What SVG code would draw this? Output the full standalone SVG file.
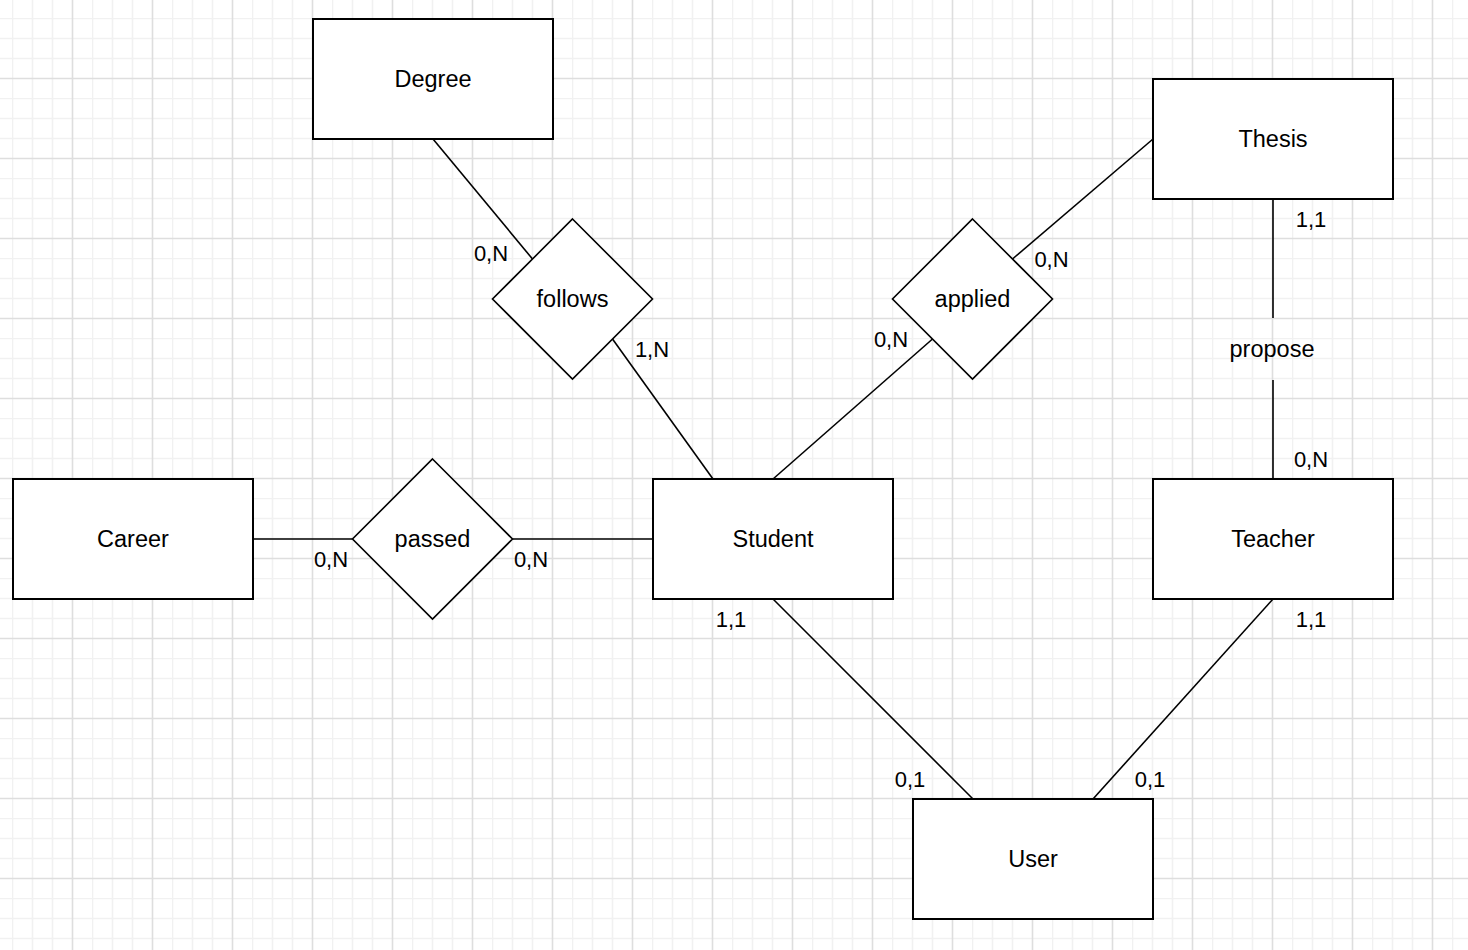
<svg xmlns="http://www.w3.org/2000/svg" width="1468" height="950" viewBox="0 0 1468 950">
<defs>
<pattern id="grid" patternUnits="userSpaceOnUse" x="12" y="18" width="80" height="80">
<path d="M0.5 0V80M20.5 0V80M40.5 0V80M0 0.5H80M0 20.5H80M0 40.5H80" stroke="#f1f1f1" stroke-width="1.6" fill="none"/>
<path d="M60.5 0V80M0 60.5H80" stroke="#dedede" stroke-width="1.6" fill="none"/>
</pattern>
<style>
.ent{fill:#ffffff;stroke:#000000;stroke-width:2}
.rel{fill:#ffffff;stroke:#000000;stroke-width:1.6}
.edge{stroke:#000000;stroke-width:1.6;fill:none}
.t{font-family:"Liberation Sans",Arial,Helvetica,sans-serif;font-size:23.5px;fill:#000000;text-anchor:middle}
.c{font-family:"Liberation Sans",Arial,Helvetica,sans-serif;font-size:22px;fill:#000000;text-anchor:middle}
</style>
</defs>
<rect x="0" y="0" width="1468" height="950" fill="#ffffff"/>
<rect x="0" y="0" width="1468" height="950" fill="url(#grid)"/>

<g id="connectors">
<line class="edge" x1="433" y1="139" x2="532.5" y2="259"/>
<line class="edge" x1="612.5" y1="339" x2="713" y2="479"/>
<line class="edge" x1="1012.5" y1="259" x2="1153" y2="139"/>
<line class="edge" x1="932.5" y1="339" x2="773" y2="479"/>
<line class="edge" x1="253" y1="539" x2="352.5" y2="539"/>
<line class="edge" x1="512.5" y1="539" x2="653" y2="539"/>
<line class="edge" x1="1273" y1="199" x2="1273" y2="318"/>
<line class="edge" x1="1273" y1="380" x2="1273" y2="479"/>
<line class="edge" x1="773" y1="599" x2="973" y2="799"/>
<line class="edge" x1="1273" y1="599" x2="1093" y2="799"/>
<text class="t" x="1272" y="357">propose</text>
<text class="c" x="491" y="261">0,N</text>
<text class="c" x="652" y="357">1,N</text>
<text class="c" x="1051.5" y="267">0,N</text>
<text class="c" x="891" y="347">0,N</text>
<text class="c" x="331" y="567">0,N</text>
<text class="c" x="531" y="567">0,N</text>
<text class="c" x="731" y="627">1,1</text>
<text class="c" x="1311" y="227">1,1</text>
<text class="c" x="1311" y="467">0,N</text>
<text class="c" x="1311" y="627">1,1</text>
<text class="c" x="910" y="787">0,1</text>
<text class="c" x="1150" y="787">0,1</text>
</g>

<g id="degree"><rect class="ent" x="313" y="19" width="240" height="120"/><text class="t" x="433" y="87.3">Degree</text></g>
<g id="thesis"><rect class="ent" x="1153" y="79" width="240" height="120"/><text class="t" x="1273" y="147.3">Thesis</text></g>
<g id="career"><rect class="ent" x="13" y="479" width="240" height="120"/><text class="t" x="133" y="547.3">Career</text></g>
<g id="student"><rect class="ent" x="653" y="479" width="240" height="120"/><text class="t" x="773" y="547.3">Student</text></g>
<g id="teacher"><rect class="ent" x="1153" y="479" width="240" height="120"/><text class="t" x="1273" y="547.3">Teacher</text></g>
<g id="user"><rect class="ent" x="913" y="799" width="240" height="120"/><text class="t" x="1033" y="867.3">User</text></g>

<g id="follows"><polygon class="rel" points="572.5,219 652.5,299 572.5,379 492.5,299"/><text class="t" x="572.5" y="307">follows</text></g>
<g id="applied"><polygon class="rel" points="972.5,219 1052.5,299 972.5,379 892.5,299"/><text class="t" x="972.5" y="307">applied</text></g>
<g id="passed"><polygon class="rel" points="432.5,459 512.5,539 432.5,619 352.5,539"/><text class="t" x="432.5" y="547">passed</text></g>
</svg>
